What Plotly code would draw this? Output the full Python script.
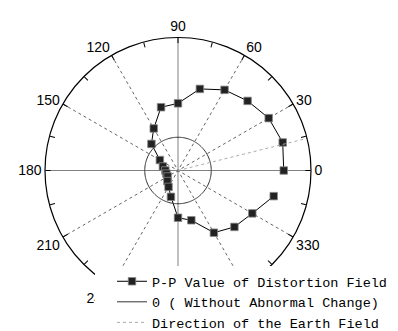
import numpy as np
import plotly.graph_objects as go

# ---- data ----
angles_deg = [0, 15, 30, 45, 60, 75, 90, 105, 120, 135, 150, 165,
              180, 195, 210, 225, 240, 255, 270, 285, 300, 315, 330, 345]
pp_values = [2.18, 2.26, 2.15, 1.96, 1.80, 1.54, 1.02, 0.97, 0.46, 0.13, -0.37, -0.53,
             -0.62, -0.64, -0.64, -0.55, -0.43, -0.18, 0.42, 0.55, 1.16, 1.40, 1.58, 1.98]
reference_value = 0.0
earth_field_dir = 14
radial_range = [-1, 3]
tick_angles = list(range(0, 360, 15))
tick_labels = [str(a) if a % 30 == 0 else "" for a in tick_angles]
spoke_angles = list(range(0, 180, 30))

fig = go.Figure()

# spokes (grid)
for a in spoke_angles:
    main = a % 90 == 0
    fig.add_trace(go.Scatterpolar(
        r=[radial_range[1], radial_range[0], radial_range[1]],
        theta=[a, a, a + 180], mode="lines",
        line=dict(color="#808080" if main else "#666666", width=1,
                  dash="solid" if main else "dot"),
        showlegend=False, hoverinfo="skip"))

# data
fig.add_trace(go.Scatterpolar(
    r=pp_values, theta=angles_deg, mode="lines+markers",
    name="P-P Value of Distortion Field",
    line=dict(color="black", width=1),
    marker=dict(symbol="square", size=7.5, color="#222222",
                line=dict(color="#888888", width=0.8))))

# reference circle
circ_theta = np.linspace(0, 360, 181).tolist()
fig.add_trace(go.Scatterpolar(
    r=[reference_value] * len(circ_theta), theta=circ_theta, mode="lines",
    name="0 ( Without Abnormal Change)",
    line=dict(color="#333333", width=1)))

# earth field direction
fig.add_trace(go.Scatterpolar(
    r=[radial_range[0], radial_range[1]], theta=[earth_field_dir, earth_field_dir],
    mode="lines", name="Direction of the Earth Field",
    line=dict(color="#aaaaaa", width=1, dash="dot")))

fig.update_layout(
    width=398, height=331,
    margin=dict(l=45, r=87, t=37, b=27, autoexpand=False),
    paper_bgcolor="white", plot_bgcolor="white",
    font=dict(family="Liberation Sans, Arial, sans-serif", size=14, color="black"),
    polar=dict(
        bgcolor="white",
        radialaxis=dict(range=radial_range, showline=False,
                        showticklabels=False, ticks="", showgrid=False),
        angularaxis=dict(
            tickmode="array", tickvals=tick_angles, ticktext=tick_labels,
            direction="counterclockwise", rotation=0,
            showgrid=False, showline=True, linecolor="black", linewidth=1.2,
            ticks="inside", ticklen=5, tickcolor="black", tickwidth=1,
            tickfont=dict(family="Liberation Sans, Arial, sans-serif", size=14, color="black")),
    ),
    legend=dict(
        x=(95 - 45) / 266, y=1 - (266 - 37) / 267, xanchor="left", yanchor="top",
        bgcolor="white", borderwidth=0, indentation=17,
        font=dict(family="Liberation Mono, DejaVu Sans Mono, monospace", size=13.5, color="black"),
        tracegroupgap=0, itemwidth=30),
)

fig.write_html("out.html", config={"displayModeBar": False},
               post_script="document.body.style.margin='0';document.body.style.overflow='hidden';")
